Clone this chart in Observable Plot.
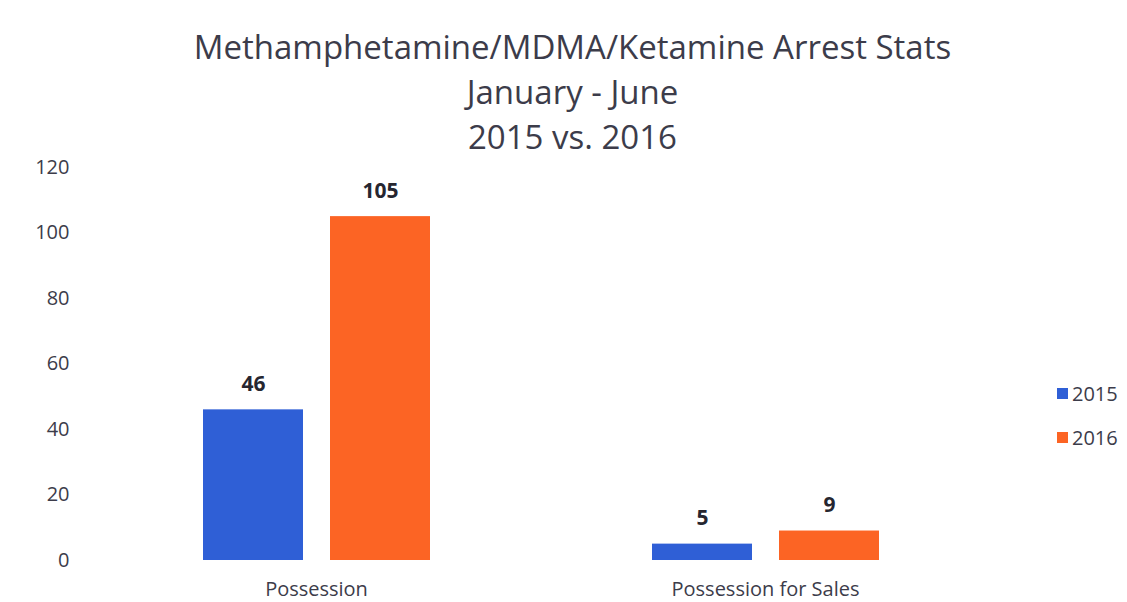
<!DOCTYPE html>
<html>
<head>
<meta charset="utf-8">
<script src="https://cdn.jsdelivr.net/npm/d3@7"></script>
<script src="https://cdn.jsdelivr.net/npm/@observablehq/plot@0.6"></script>
<style>
  html, body { margin: 0; padding: 0; background: #fff; }
  #wrap { position: relative; width: 1127px; height: 602px; font-family: "Open Sans", sans-serif; color: #3c3c4a; }
  #title { position: absolute; left: 0; top: 24px; width: 1145px; text-align: center; font-size: 33px; line-height: 45px; }
  #chart { position: absolute; left: 0; top: 150px; }
  .leg { position: absolute; left: 1057px; font-size: 20px; line-height: 27px; display: flex; align-items: center; }
  .leg span.sw { display: inline-block; width: 11px; height: 11px; margin-right: 4px; }
</style>
</head>
<body>
<div id="wrap">
  <div id="title">Methamphetamine/MDMA/Ketamine Arrest Stats<br>January - June<br>2015 vs. 2016</div>
  <div id="chart"></div>
  <div class="leg" style="top:380px"><span class="sw" style="background:#2f5fd6"></span>2015</div>
  <div class="leg" style="top:424px"><span class="sw" style="background:#fc6424"></span>2016</div>
</div>
<script>
const categories = ["Possession", "Possession for Sales"];
const years = ["2015", "2016"];
const values2015 = [46, 5];
const values2016 = [105, 9];
const yTicks = [0, 20, 40, 60, 80, 100, 120];
const colors = ["#2f5fd6", "#fc6424"];

const data = [];
categories.forEach((c, i) => {
  data.push({category: c, year: years[0], value: values2015[i]});
  data.push({category: c, year: years[1], value: values2016[i]});
});

const chart = Plot.plot({
  width: 1127,
  height: 452,
  marginLeft: 90,
  marginRight: 137,
  marginTop: 17,
  marginBottom: 42,
  style: {fontFamily: "Open Sans, sans-serif", fontSize: "20px", color: "#3c3c4a", background: "transparent", overflow: "visible"},
  fx: {domain: categories, paddingInner: 0.4933, paddingOuter: 0.2467, axis: "bottom", label: null, tickSize: 0, tickPadding: 21},
  x: {domain: years, axis: null, paddingInner: 0.2126, paddingOuter: 0},
  y: {domain: [0, 120], ticks: yTicks, label: null, tickSize: 0, tickPadding: 133, grid: false},
  color: {domain: years, range: colors},
  marks: [
    Plot.barY(data, {fx: "category", x: "year", y: "value", fill: "year"}),
    Plot.text(data, {fx: "category", x: "year", y: "value", text: d => String(d.value), dy: -19, lineAnchor: "bottom", fontWeight: "bold", fontSize: 21, fill: "#262630"})
  ]
});
document.getElementById("chart").appendChild(chart);
</script>
</body>
</html>
